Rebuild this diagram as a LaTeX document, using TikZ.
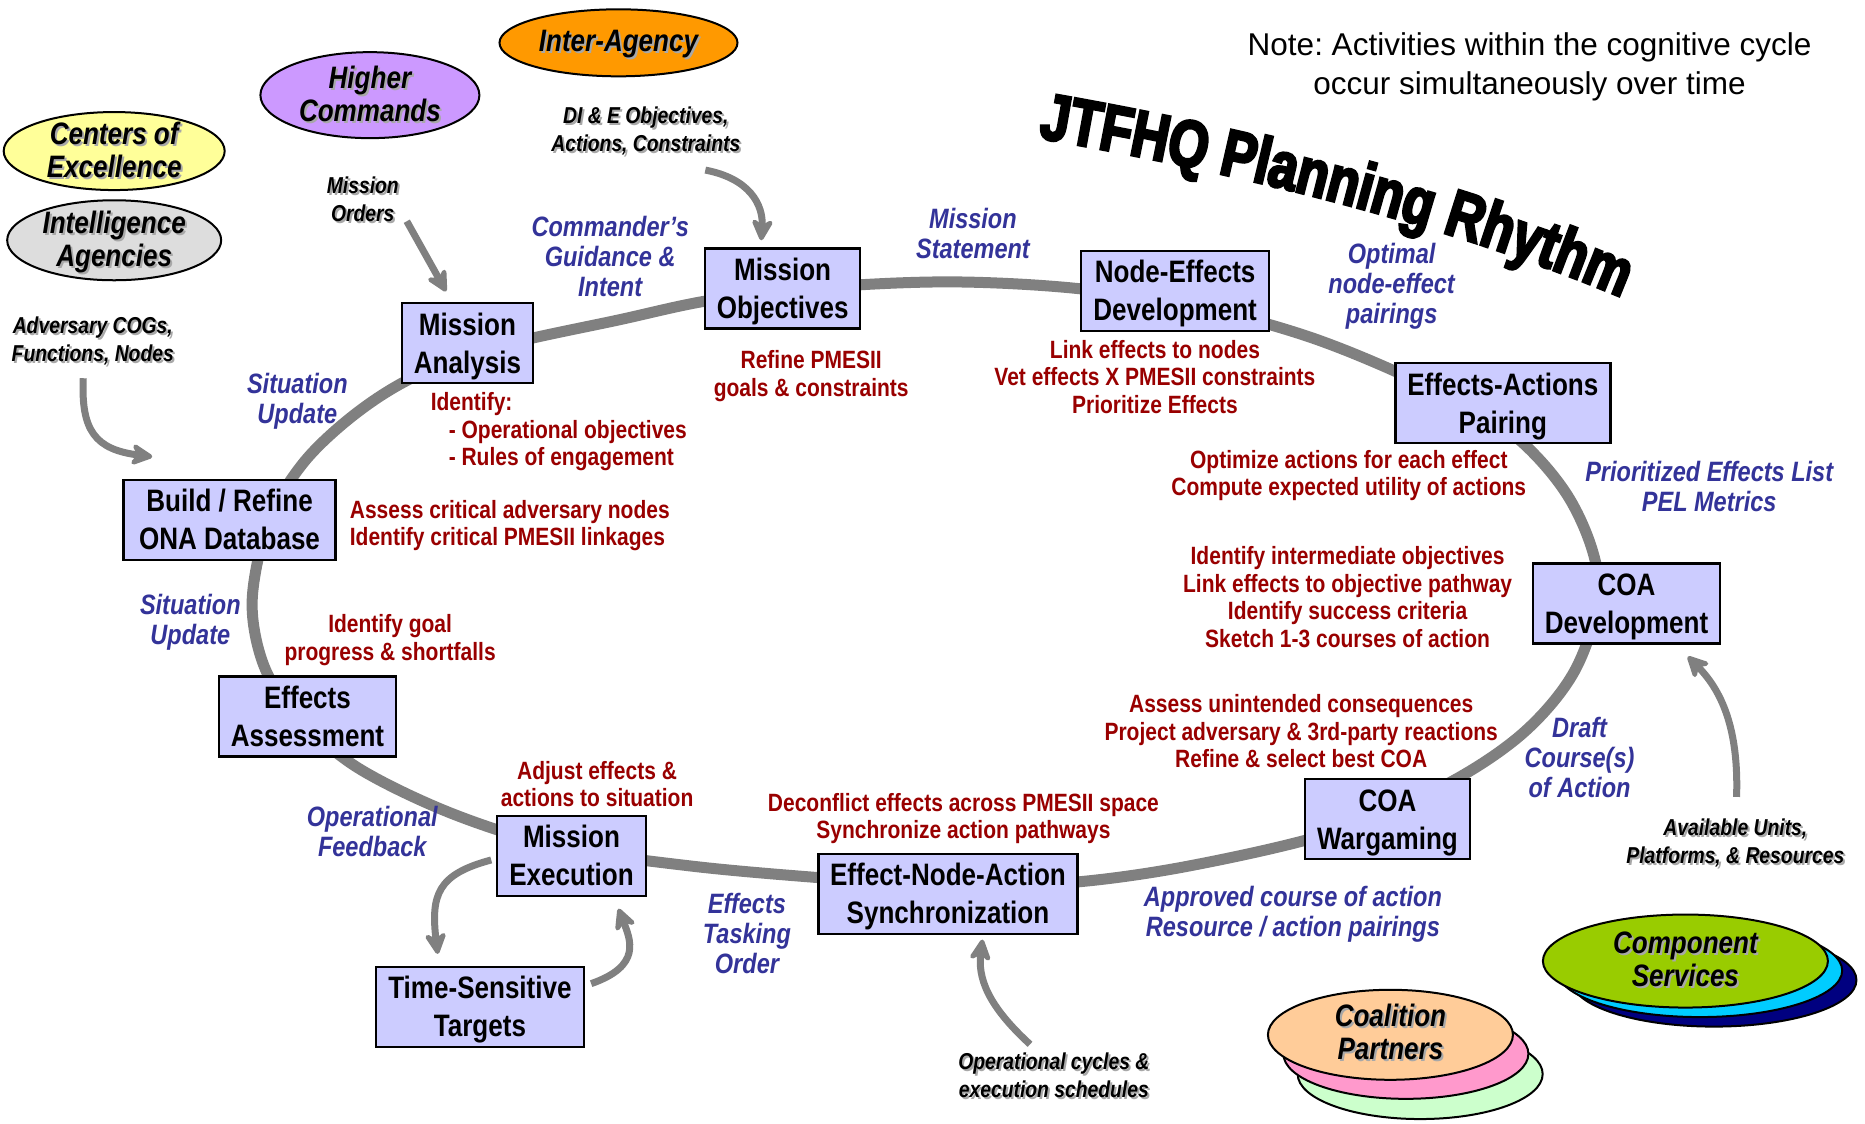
\documentclass[tikz,border=0pt]{standalone}
\usepackage{fontspec}
\setmainfont[FakeStretch=0.84]{Liberation Sans}
\newfontfamily\notefont{Liberation Sans}
\newfontfamily\titlefont[FakeBold=4,FakeStretch=0.78]{Liberation Sans Bold}
\usetikzlibrary{arrows.meta,decorations.text,shapes.geometric}
\frenchspacing

\definecolor{boxfill}{HTML}{CCCCFF}
\definecolor{flowblue}{HTML}{333399}
\definecolor{taskred}{HTML}{990000}
\definecolor{cyclegray}{HTML}{808080}
\definecolor{shade}{HTML}{A8A8A8}
\definecolor{cexyellow}{HTML}{FFFF99}
\definecolor{intgray}{HTML}{DDDDDD}
\definecolor{hqpurple}{HTML}{CC99FF}
\definecolor{iaorange}{HTML}{FF9900}
\definecolor{csgreen}{HTML}{99CC00}
\definecolor{cscyan}{HTML}{00CCFF}
\definecolor{csnavy}{HTML}{000080}
\definecolor{cppeach}{HTML}{FFCC99}
\definecolor{cppink}{HTML}{FF99CC}
\definecolor{cplight}{HTML}{CCFFCC}

% text with a soft grey drop shadow
\newcommand\shadowed[1]{%
  \rlap{\kern2pt\raisebox{-2pt}{\color{shade}\begin{tabular}{@{}c@{}}#1\end{tabular}}}%
  \begin{tabular}{@{}c@{}}#1\end{tabular}}
% two-line box label, centred on cap tops and last baseline
\newcommand\boxlabel[1]{%
  \raisebox{7.9pt}[0pt][0pt]{\begin{tabular}[t]{@{}c@{}}#1\end{tabular}}}

\tikzset{
  proc/.style={draw, line width=2.5pt, fill=boxfill, inner sep=0pt,
    minimum height=80pt, font=\fontsize{31}{38}\selectfont\bfseries},
  flow/.style={text=flowblue, align=center, inner sep=0pt,
    font=\fontsize{28}{30}\selectfont\bfseries\itshape},
  task/.style={text=taskred, align=center, inner sep=0pt,
    font=\fontsize{25}{27.5}\selectfont\bfseries},
  src/.style={align=center, inner sep=0pt,
    font=\fontsize{23}{28}\selectfont\bfseries\itshape},
  org/.style={ellipse, draw, line width=2pt, inner sep=0pt},
  orgtext/.style={inner sep=0pt, font=\fontsize{31}{33}\selectfont\bfseries\itshape},
  feed/.style={draw=cyclegray, line width=7pt,
    -{Stealth[length=27pt,width=27pt,inset=9pt,round]}},
  cycle/.style={draw=cyclegray, line width=11pt},
}

\begin{document}
\begin{tikzpicture}[x=1.1894pt, y=-1.1894pt]
\useasboundingbox (0,0) rectangle (1568,945);
\fill[white] (0,0) rectangle (1568,945);

% the planning cycle
\draw[cycle] plot[smooth cycle, tension=0.55] coordinates {
  (212,505) (226,438) (256,388) (300,347) (350,316) (420,291) (520,269)
  (600,252) (700,241) (800,237) (900,242) (1000,256) (1100,283) (1190,320)
  (1268,362) (1320,420) (1344,490) (1326,560) (1282,615) (1215,660)
  (1120,700) (1000,728) (900,742) (797,745) (690,738) (580,728) (470,712)
  (380,684) (300,645) (250,602) (222,560)};

% title along an arc
\path[decorate, decoration={text along path, text align=center,
  text={|\titlefont\fontsize{66}{66}\selectfont|JTFHQ Planning Rhythm}}]
  (868,115) .. controls (1070,150) and (1237,196) .. (1368,252);

% note
\node[font=\notefont\fontsize{31.5}{39}\selectfont, align=center, inner sep=0pt] (note)
  at (1286,56) {Note: Activities within the cognitive cycle\\occur simultaneously over time};

% process boxes
\node[proc, minimum width=131pt] (ma)  at (393,288.5)  {\boxlabel{Mission\\Analysis}};
\node[proc, minimum width=155pt] (mo)  at (658,242.5)  {\boxlabel{Mission\\Objectives}};
\node[proc, minimum width=188pt] (ne)  at (988,244.5)  {\boxlabel{Node-Effects\\Development}};
\node[proc, minimum width=215pt] (eap) at (1263.5,339) {\boxlabel{Effects-Actions\\Pairing}};
\node[proc, minimum width=187pt] (cd)  at (1367.5,507.5) {\boxlabel{COA\\Development}};
\node[proc, minimum width=165pt] (cw)  at (1166.5,688.5) {\boxlabel{COA\\Wargaming}};
\node[proc, minimum width=259pt] (ena) at (797,751.5)  {\boxlabel{Effect-Node-Action\\Synchronization}};
\node[proc, minimum width=149pt] (me)  at (480.5,719.5) {\boxlabel{Mission\\Execution}};
\node[proc, minimum width=208pt] (tst) at (403.5,846.5) {\boxlabel{Time-Sensitive\\Targets}};
\node[proc, minimum width=177pt] (eas) at (258.5,602.5) {\boxlabel{Effects\\Assessment}};
\node[proc, minimum width=212pt] (db)  at (193,437)    {\boxlabel{Build / Refine\\ONA Database}};

% outside organisations
\node[org, fill=cexyellow, minimum width=221pt, minimum height=78pt] (cex) at (96,127) {};
\node[orgtext] (cex-t) at ([yshift=-4pt]cex.center) {\shadowed{Centers of\\Excellence}};
\node[org, fill=intgray, minimum width=214pt, minimum height=80pt] (int) at (96,202) {};
\node[orgtext] (int-t) at ([yshift=-4pt]int.center) {\shadowed{Intelligence\\Agencies}};
\node[org, fill=hqpurple, minimum width=219pt, minimum height=86pt] (hq) at (311,80) {};
\node[orgtext] (hq-t) at ([yshift=-4pt]hq.center) {\shadowed{Higher\\Commands}};
\node[org, fill=iaorange, minimum width=238pt, minimum height=67pt] (ia) at (520,36) {};
\node[orgtext] (ia-t) at ([yshift=-3pt]ia.center) {\shadowed{Inter-Agency}};
\node[org, fill=csnavy, minimum width=285pt, minimum height=93pt] (cs3) at (1441,824) {};
\node[org, fill=cscyan, minimum width=285pt, minimum height=93pt] (cs2) at (1429,816) {};
\node[org, fill=csgreen, minimum width=285pt, minimum height=93pt] (cs) at (1417,808) {};
\node[orgtext] (cs-t) at ([yshift=-3pt]cs.center) {\shadowed{Component\\Services}};
\node[org, fill=cplight, minimum width=245pt, minimum height=90pt] (cp3) at (1194,903) {};
\node[org, fill=cppink, minimum width=245pt, minimum height=90pt] (cp2) at (1182,886) {};
\node[org, fill=cppeach, minimum width=245pt, minimum height=90pt] (cp) at (1169,870) {};
\node[orgtext] (cp-t) at ([yshift=-3pt]cp.center) {\shadowed{Coalition\\Partners}};

% inputs
\node[src] (orders) at (305,171) {\shadowed{Mission\\Orders}};
\node[src] (die)    at (543,112) {\shadowed{DI \& E Objectives,\\Actions, Constraints}};
\node[src] (cogs)   at (78,288)  {\shadowed{Adversary COGs,\\Functions, Nodes}};
\node[src] (units)  at (1459,710) {\shadowed{Available Units,\\Platforms, \& Resources}};
\node[src] (sched)  at (886,907) {\shadowed{Operational cycles \&\\execution schedules}};

% products flowing between steps
\node[flow] (cg)   at (513,216)  {Commander’s\\Guidance \&\\Intent};
\node[flow] (ms)   at (818,196)  {Mission\\Statement};
\node[flow] (opt)  at (1170,241) {Optimal\\node-effect\\pairings};
\node[flow] (pel)  at (1437,409) {Prioritized Effects List\\PEL Metrics};
\node[flow] (dca)  at (1328,637) {Draft\\Course(s)\\of Action};
\node[flow] (aca)  at (1087,769) {Approved course of action\\Resource / action pairings};
\node[flow] (eto)  at (628,785)  {Effects\\Tasking\\Order};
\node[flow] (ofb)  at (313,699)  {Operational\\Feedback};
\node[flow] (su1)  at (160,523)  {Situation\\Update};
\node[flow] (su2)  at (250,337)  {Situation\\Update};

% activities within each step
\node[task] (t-mo)  at (682,316)  {Refine PMESII\\goals \& constraints};
\node[task] (t-ne)  at (971,317)  {Link effects to nodes\\Vet effects X PMESII constraints\\Prioritize Effects};
\node[task] (t-eap) at (1134,400) {Optimize actions for each effect\\Compute expected utility of actions};
\node[task] (t-cd)  at (1133,502) {Identify intermediate objectives\\Link effects to objective pathway\\Identify success criteria\\Sketch 1-3 courses of action};
\node[task] (t-cw)  at (1094,615) {Assess unintended consequences\\Project adversary \& 3rd-party reactions\\Refine \& select best COA};
\node[task] (t-ena) at (810,688)  {Deconflict effects across PMESII space\\Synchronize action pathways};
\node[task] (t-me)  at (502,659)  {Adjust effects \&\\actions to situation};
\node[task] (t-eas) at (328,538)  {Identify goal\\progress \& shortfalls};
\node[task, align=left, anchor=west] (t-db) at (294,442)
  {Assess critical adversary nodes\\Identify critical PMESII linkages};
\node[task, align=left, anchor=west] (t-ma) at (362,363)
  {Identify:\\\hspace*{18pt}- Operational objectives\\\hspace*{18pt}- Rules of engagement};

% arrow end points
\coordinate (cogs-out) at (70,318);
\coordinate (db-in)    at (128,384);
\coordinate (orders-out) at (342,186);
\coordinate (ma-in)    at (375,245);
\coordinate (die-out)  at (593,143);
\coordinate (mo-in)    at (640,202);
\coordinate (me-out)   at (413,723);
\coordinate (tst-in)   at (368,802);
\coordinate (tst-out)  at (497,827);
\coordinate (me-in)    at (520,764);
\coordinate (sched-out) at (866,878);
\coordinate (ena-in)   at (826,790);
\coordinate (units-out) at (1460,670);
\coordinate (cd-in)    at (1419,552);

\draw[feed] (cogs-out) .. controls (68,362) and (80,378) .. (db-in);
\draw[feed] (orders-out) -- (ma-in);
\draw[feed] (die-out) .. controls (630,150) and (642,172) .. (mo-in);
\draw[feed] (me-out) .. controls (368,735) and (362,752) .. (tst-in);
\draw[feed] (tst-out) .. controls (540,812) and (530,790) .. (me-in);
\draw[feed] (sched-out) .. controls (830,845) and (822,822) .. (ena-in);
\draw[feed] (units-out) .. controls (1462,612) and (1447,580) .. (cd-in);
\end{tikzpicture}
\end{document}
